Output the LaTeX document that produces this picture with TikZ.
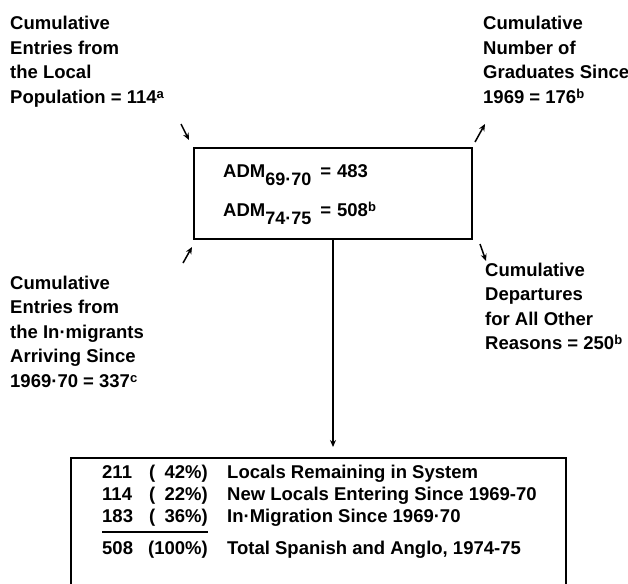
\documentclass[tikz,border=0pt]{standalone}
\usepackage{fontspec}
\setmainfont{Liberation Sans}
\usetikzlibrary{arrows.meta}
\newcommand\lblfont{\bfseries\fontsize{18.5}{24.5}\selectfont}
\newcommand\mysup[1]{\raisebox{5pt}{\fontsize{13}{13}\selectfont #1}}
\newcommand\mysub[1]{\raisebox{-8pt}{\fontsize{18}{18}\selectfont #1}}
\newcommand\stacklines[1]{\begin{tabular}[t]{@{}l@{}}#1\end{tabular}}
\tikzset{
  lbl/.style={anchor=base west, inner sep=0pt, font=\lblfont},
  lble/.style={anchor=base east, inner sep=0pt, font=\lblfont},
  boxed/.style={draw, line width=2pt, inner sep=0pt},
  arr/.style={-{Stealth[length=7pt,width=6pt]}, line width=1.5pt},
}
\begin{document}
\begin{tikzpicture}[x=1pt,y=-1pt]
\useasboundingbox (0,0) rectangle (628,583);
\clip (0,0) rectangle (628,583);

% corner labels
\node[lbl] (tl) at (10,30) {\stacklines{Cumulative\\Entries from\\the Local\\Population = 114\mysup{a}}};
\node[lbl] (tr) at (483,30) {\stacklines{Cumulative\\Number of\\Graduates Since\\1969 = 176\mysup{b}}};
\node[lbl] (bl) at (10,289) {\stacklines{Cumulative\\Entries from\\the In·migrants\\Arriving Since\\1969·70 = 337\mysup{c}}};
\node[lbl] (br) at (485,276) {\stacklines{Cumulative\\Departures\\for All Other\\Reasons = 250\mysup{b}}};

% central box
\node[boxed, anchor=north west, minimum width=278pt, minimum height=91pt] (adm) at (193,147) {};
\node[lbl] (adm1) at (223,177) {ADM\mysub{69·70}\hspace{9pt}=\hspace{6pt}483};
\node[lbl] (adm2) at (223,216) {ADM\mysub{74·75}\hspace{9pt}=\hspace{6pt}508\mysup{b}};

% small arrows at the corners
\coordinate (tla) at (181,124); \coordinate (tlb) at (189,140);
\coordinate (tra) at (475,142); \coordinate (trb) at (485,124);
\coordinate (bla) at (183,263); \coordinate (blb) at (192,247);
\coordinate (bra) at (480,244); \coordinate (brb) at (486,261);
\draw[arr] (tla) -- (tlb);
\draw[arr] (tra) -- (trb);
\draw[arr] (bla) -- (blb);
\draw[arr] (bra) -- (brb);

% bottom box (open at the lower edge of the picture)
\node[boxed, anchor=north west, minimum width=495pt, minimum height=170pt] (bot) at (70,457) {};
\draw[arr, line width=2pt, shorten >=10pt] (adm.south) -- (adm.south |- bot.north);

\node[lbl] (n1) at (102,478) {211};
\node[lbl] (o1) at (149,478) {(};
\node[lble] (p1) at (208,478) {42\%)};
\node[lbl] (d1) at (227,478) {Locals Remaining in System};

\node[lbl] (n2) at (102,500) {114};
\node[lbl] (o2) at (149,500) {(};
\node[lble] (p2) at (208,500) {22\%)};
\node[lbl] (d2) at (227,500) {New Locals Entering Since 1969-70};

\node[lbl] (n3) at (102,522) {183};
\node[lbl] (o3) at (149,522) {(};
\node[lble] (p3) at (208,522) {36\%)};
\node[lbl] (d3) at (227,522) {In·Migration Since 1969·70};
\draw[line width=1.6pt] ([yshift=-10pt]n3.base west) -- ([yshift=-10pt]p3.base east);

\node[lbl] (n4) at (102,554) {508};
\node[lble] (p4) at (208,554) {(100\%)};
\node[lbl] (d4) at (227,554) {Total Spanish and Anglo, 1974-75};
\end{tikzpicture}
\end{document}
